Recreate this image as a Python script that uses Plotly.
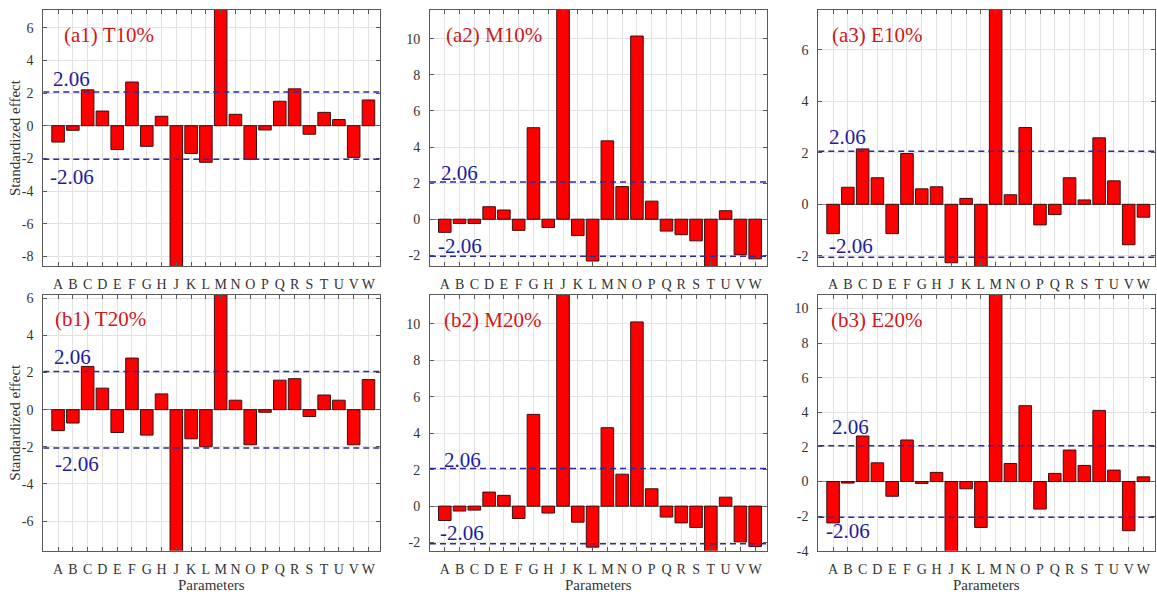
import plotly.graph_objects as go

# Parameter names on the x axis (no "I")
params = ["A", "B", "C", "D", "E", "F", "G", "H", "J", "K", "L",
          "M", "N", "O", "P", "Q", "R", "S", "T", "U", "V", "W"]

# Standardized effects for each case
t10 = [-1.00, -0.28, 2.20, 0.90, -1.46, 2.68, -1.26, 0.58, -9.50, -1.70, -2.24,
       8.00, 0.70, -2.06, -0.26, 1.50, 2.26, -0.52, 0.82, 0.38, -1.94, 1.58]
m10 = [-0.73, -0.24, -0.24, 0.69, 0.51, -0.62, 5.07, -0.46, 12.50, -0.91, -2.32,
       4.34, 1.81, 10.15, 1.00, -0.66, -0.86, -1.20, -2.80, 0.47, -1.97, -2.20]
e10 = [-1.14, 0.66, 2.15, 1.03, -1.14, 1.97, 0.60, 0.68, -2.27, 0.23, -2.60,
       8.50, 0.37, 2.98, -0.80, -0.40, 1.03, 0.17, 2.58, 0.91, -1.57, -0.50]
t20 = [-1.13, -0.72, 2.33, 1.16, -1.23, 2.78, -1.37, 0.85, -8.50, -1.57, -2.00,
       7.00, 0.51, -1.89, -0.14, 1.59, 1.67, -0.37, 0.79, 0.51, -1.89, 1.62]
m20 = [-0.79, -0.27, -0.22, 0.77, 0.59, -0.68, 5.03, -0.38, 12.50, -0.88, -2.25,
       4.30, 1.75, 10.10, 0.95, -0.60, -0.92, -1.17, -2.70, 0.49, -1.96, -2.22]
e20 = [-2.39, -0.09, 2.63, 1.08, -0.85, 2.40, -0.11, 0.53, -4.50, -0.42, -2.65,
       12.00, 1.04, 4.38, -1.59, 0.47, 1.82, 0.93, 4.11, 0.66, -2.84, 0.27]

threshold = 2.06

W, H = 1157, 601
SERIF = "Liberation Serif"

# panel: (title, values, y range, y ticks, column, row,
#         title pos, +thr label pos, -thr label pos)  positions in axis-domain fractions
panels = [
    ("(a1) T10%", t10, [-8.6, 7.1], [-8, -6, -4, -2, 0, 2, 4, 6], 0, 0,
     (0.056, 0.90), (0.022, 0.732), (0.015, 0.349)),
    ("(a2) M10%", m10, [-2.6, 11.6], [-2, 0, 2, 4, 6, 8, 10], 1, 0,
     (0.042, 0.90), (0.027, 0.364), (0.017, 0.077)),
    ("(a3) E10%", e10, [-2.4, 7.55], [-2, 0, 2, 4, 6], 2, 0,
     (0.036, 0.90), (0.027, 0.502), (0.025, 0.077)),
    ("(b1) T20%", t20, [-7.6, 6.2], [-6, -4, -2, 0, 2, 4, 6], 0, 1,
     (0.030, 0.904), (0.025, 0.755), (0.030, 0.337)),
    ("(b2) M20%", m20, [-2.45, 11.6], [-2, 0, 2, 4, 6, 8, 10], 1, 1,
     (0.036, 0.90), (0.035, 0.356), (0.025, 0.069)),
    ("(b3) E20%", e20, [-4.0, 10.8], [-4, -2, 0, 2, 4, 6, 8, 10], 2, 1,
     (0.033, 0.90), (0.035, 0.483), (0.017, 0.077)),
]

# pixel geometry of the grid
col_px = [(43.3, 380.3), (430.0, 767.0), (818.3, 1155.3)]
row_px = [(7.0, 268.0), (297.0, 558.0)]

x_vals = list(range(1, len(params) + 1))

fig = go.Figure()
layout = dict(
    width=W, height=H,
    margin=dict(l=0, r=0, t=0, b=0),
    paper_bgcolor="white", plot_bgcolor="white",
    showlegend=False,
    font=dict(family=SERIF, size=14, color="#333333"),
    shapes=[], annotations=[],
)

for i, (title, vals, yr, yt, c, r, tpos, ppos, npos) in enumerate(panels):
    n = "" if i == 0 else str(i + 1)
    xa, ya = "x" + n, "y" + n
    x0, x1 = col_px[c]
    y0, y1 = row_px[r]

    fig.add_trace(go.Bar(
        x=x_vals, y=vals, xaxis=xa, yaxis=ya, width=0.85,
        marker=dict(color="#ff0000", line=dict(color="#3a1010", width=1)),
    ))

    layout["xaxis" + n] = dict(
        domain=[x0 / W, x1 / W], anchor=ya, range=[0, 22.8],
        tickmode="array", tickvals=x_vals, ticktext=params, tickangle=0,
        showgrid=True, gridcolor="#e3e3e3", gridwidth=1,
        showline=True, linecolor="#5a5a5a", linewidth=1, mirror="ticks",
        ticks="inside", ticklen=4, tickcolor="#5a5a5a",
        tickfont=dict(family=SERIF, size=14, color="#333333"),
        ticklabelstandoff=5, zeroline=False, fixedrange=True,
    )
    layout["yaxis" + n] = dict(
        domain=[1 - y1 / H, 1 - y0 / H], anchor=xa, range=yr,
        tickmode="array", tickvals=yt, ticktext=[str(v) for v in yt],
        showgrid=True, gridcolor="#e3e3e3", gridwidth=1,
        showline=True, linecolor="#5a5a5a", linewidth=1, mirror="ticks",
        ticks="inside", ticklen=4, tickcolor="#5a5a5a",
        tickfont=dict(family=SERIF, size=14, color="#333333"),
        ticklabelstandoff=6,
        zeroline=True, zerolinecolor="#8a8a8a", zerolinewidth=1,
        fixedrange=True,
    )

    # significance thresholds
    for yv in (threshold, -threshold):
        layout["shapes"].append(dict(
            type="line", xref=xa + " domain", yref=ya, x0=0, x1=1, y0=yv, y1=yv,
            line=dict(color="#2a2aa8", width=1.5, dash="6px,4px"), layer="above",
        ))

    layout["annotations"].append(dict(
        text=title, xref=xa + " domain", yref=ya + " domain",
        x=tpos[0], y=tpos[1], xanchor="left", yanchor="middle", showarrow=False,
        font=dict(family=SERIF, size=21, color="#d01818"),
    ))
    for txt, pos in ((f"{threshold:.2f}", ppos), (f"-{threshold:.2f}", npos)):
        layout["annotations"].append(dict(
            text=txt, xref=xa + " domain", yref=ya + " domain",
            x=pos[0], y=pos[1], xanchor="left", yanchor="middle", showarrow=False,
            font=dict(family=SERIF, size=21, color="#1c1ca0"),
        ))

# axis titles
for r in range(2):
    y0, y1 = row_px[r]
    layout["annotations"].append(dict(
        text="Standardized effect", xref="paper", yref="paper",
        x=15 / W, y=1 - (y0 + y1) / 2 / H, textangle=-90,
        xanchor="center", yanchor="middle", showarrow=False,
        font=dict(family=SERIF, size=15, color="#333333"),
    ))
for c in range(3):
    x0, x1 = col_px[c]
    layout["annotations"].append(dict(
        text="Parameters", xref="paper", yref="paper",
        x=(x0 + x1) / 2 / W, y=1 - 593 / H,
        xanchor="center", yanchor="middle", showarrow=False,
        font=dict(family=SERIF, size=15, color="#333333"),
    ))

fig.update_layout(**layout)
fig.write_html("out.html")
